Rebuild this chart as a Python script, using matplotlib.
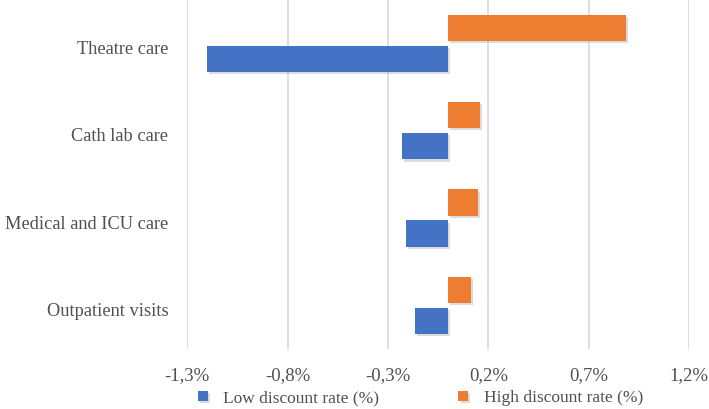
import matplotlib.pyplot as plt
import matplotlib.patheffects as pe
import matplotlib.transforms as mtransforms
import numpy as np

# ── Dados ────────────────────────────────────────────────────────────────
categorias = ["Theatre care", "Cath lab care", "Medical and ICU care", "Outpatient visits"]
taxa_baixa = [-1.20, -0.23, -0.21, -0.165]   # Low discount rate (%)
taxa_alta = [0.885, 0.16, 0.15, 0.115]        # High discount rate (%)
ticks_x = [-1.3, -0.8, -0.3, 0.2, 0.7, 1.2]

AZUL = "#4472C4"
LARANJA = "#ED7D31"
COR_TEXTO = "#505050"

plt.rcParams["font.family"] = ["Liberation Serif", "DejaVu Serif"]

fig = plt.figure(figsize=(7.09, 4.09), dpi=100)
ax = fig.add_axes([0.264, 0.147, 0.708, 0.853])

y = np.arange(len(categorias))
altura = 0.30
sombra = [pe.SimplePatchShadow(offset=(1.5, -1.5), shadow_rgbFace="#999999", alpha=0.35), pe.Normal()]
ax.barh(y + 0.178, taxa_baixa, height=altura, color=AZUL, label="Low discount rate (%)",
        zorder=3, path_effects=sombra)
ax.barh(y - 0.178, taxa_alta, height=altura, color=LARANJA, label="High discount rate (%)",
        zorder=3, path_effects=sombra)

ax.set_yticks(y)
ax.set_yticklabels(categorias, fontsize=13.2, color=COR_TEXTO)
ax.set_ylim(len(categorias) - 0.5, -0.5)
ax.tick_params(axis="y", length=0, pad=13.5)
# Rótulos levemente abaixo do centro, como no original
desloc = mtransforms.ScaledTranslation(0, -0.04, fig.dpi_scale_trans)
for lbl in ax.get_yticklabels():
    lbl.set_transform(lbl.get_transform() + desloc)

ax.set_xlim(-1.3, 1.2)
ax.set_xticks(ticks_x)
ax.set_xticklabels([f"{t:.1f}%".replace(".", ",") for t in ticks_x], fontsize=13.5, color=COR_TEXTO)
ax.tick_params(axis="x", length=0, pad=13)
ax.grid(axis="x", color="#d9d9d9", linewidth=1.2, zorder=0)

for s in ax.spines.values():
    s.set_visible(False)

ax.legend(loc="upper center", bbox_to_anchor=(0.465, -0.074), ncol=2, frameon=False,
          fontsize=12.5, handlelength=0.55, handleheight=0.55, columnspacing=4.55,
          handletextpad=0.9, labelcolor=COR_TEXTO)

fig.savefig("out.png", dpi=100)
